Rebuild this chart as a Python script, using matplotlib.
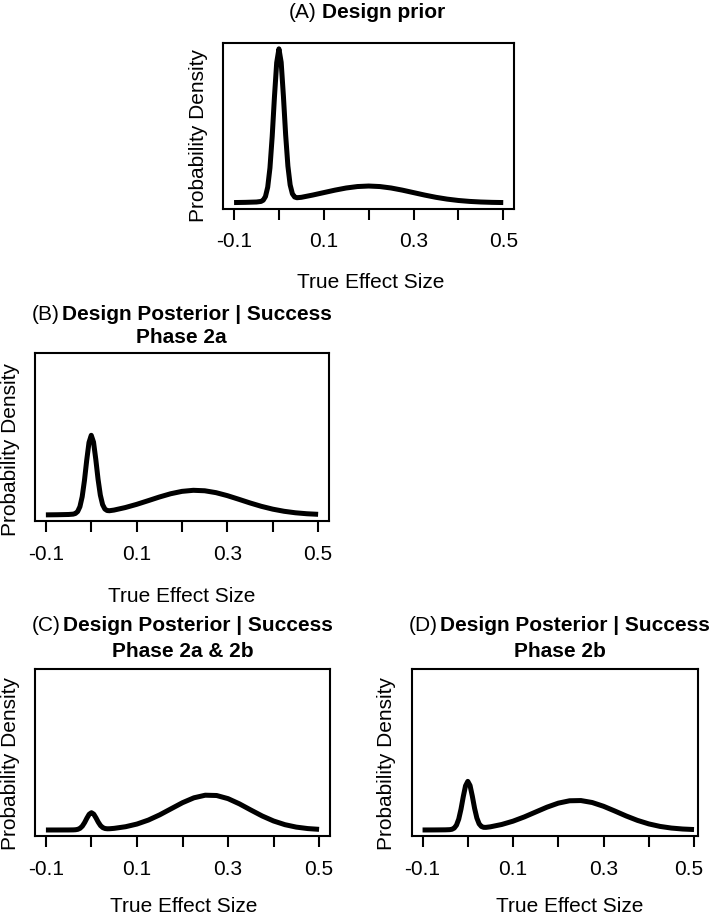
import matplotlib
matplotlib.use("Agg")
import matplotlib.pyplot as plt
import matplotlib.transforms as mtransforms

plt.rcParams['font.family'] = ['Liberation Sans', 'DejaVu Sans']

# ---- data ----
effect_size = [-0.1, -0.075, -0.05, -0.04, -0.035, -0.03, -0.025, -0.02, -0.015, -0.01,
               -0.005, 0.0, 0.005, 0.01, 0.015, 0.02, 0.025, 0.03, 0.035, 0.04,
               0.05, 0.075, 0.1, 0.125, 0.15, 0.175, 0.2, 0.225, 0.25, 0.275,
               0.3, 0.325, 0.35, 0.375, 0.4, 0.425, 0.45, 0.475, 0.5]

density_prior = [0.021, 0.043, 0.083, 0.148, 0.287, 0.709, 1.771, 3.959, 7.548, 12.02,
                 15.92, 17.50, 15.97, 12.12, 7.70, 4.17, 2.03, 1.02, 0.654, 0.569,
                 0.617, 0.870, 1.152, 1.434, 1.677, 1.841, 1.900, 1.841, 1.677, 1.434,
                 1.152, 0.870, 0.617, 0.411, 0.257, 0.151, 0.083, 0.043, 0.021]

density_post_2a = [0.012, 0.027, 0.055, 0.094, 0.168, 0.387, 0.932, 2.052, 3.878, 6.166,
                   8.156, 8.967, 8.201, 6.257, 4.016, 2.237, 1.164, 0.668, 0.500, 0.478,
                   0.550, 0.836, 1.194, 1.602, 2.019, 2.390, 2.658, 2.777, 2.725, 2.512,
                   2.176, 1.770, 1.353, 0.972, 0.655, 0.415, 0.247, 0.138, 0.073]

density_post_2a2b = [0.001, 0.002, 0.005, 0.013, 0.029, 0.076, 0.194, 0.439, 0.841, 1.341,
                     1.778, 1.957, 1.791, 1.367, 0.882, 0.495, 0.267, 0.166, 0.138, 0.144,
                     0.187, 0.371, 0.674, 1.122, 1.715, 2.402, 3.087, 3.638, 3.933, 3.899,
                     3.545, 2.956, 2.261, 1.586, 1.020, 0.602, 0.326, 0.162, 0.073]

density_post_2b = [0.003, 0.007, 0.019, 0.039, 0.083, 0.217, 0.552, 1.240, 2.367, 3.770,
                   4.996, 5.496, 5.025, 3.827, 2.453, 1.357, 0.701, 0.400, 0.302, 0.297,
                   0.361, 0.624, 0.999, 1.481, 2.032, 2.581, 3.035, 3.304, 3.329, 3.106,
                   2.682, 2.145, 1.587, 1.088, 0.690, 0.405, 0.220, 0.111, 0.052]

tick_values = [-0.1, 0.0, 0.1, 0.2, 0.3, 0.4, 0.5]
tick_labels = ['-0.1', '', '0.1', '', '0.3', '', '0.5']

panel_letters = ['(A)', '(B)', '(C)', '(D)']
panel_titles = ['Design prior', 'Design Posterior | Success',
                'Design Posterior | Success', 'Design Posterior | Success']
panel_subtitles = ['', 'Phase 2a', 'Phase 2a & 2b', 'Phase 2b']
xlabel = 'True Effect Size'
ylabel = 'Probability Density'

# ---- layout (pixels) ----
W, H = 709, 917
DPI = 100
FS = 15

fig = plt.figure(figsize=(W / DPI, H / DPI), dpi=DPI)
fig.patch.set_facecolor('white')


def box(l, t, r, b):
    return [l / W, 1 - b / H, (r - l) / W, (b - t) / H]


def ftext(x, y, s, **kw):
    fig.text(x / W, 1 - y / H, s, **kw)


panels = [
    dict(box=(223.3, 42.7, 514.0, 208.7), xmax=0.524, dens=density_prior,
         letter=(317.0, 18.3), bold=(321.5, 18.3), sub=None,
         xl=(371.0, 288.5), yl=(199.0, 136.0), last_shift=0),
    dict(box=(35.0, 353.3, 329.0, 521.0), xmax=0.524, dens=density_post_2a,
         letter=(59.5, 319.5), bold=(61.7, 319.5), sub=(181.7, 342.7),
         xl=(182.0, 601.7), yl=(11.0, 449.0), last_shift=0),
    dict(box=(35.0, 669.0, 330.0, 836.0), xmax=0.524, dens=density_post_2a2b,
         letter=(61.0, 630.7), bold=(63.3, 630.7), sub=(182.5, 656.7),
         xl=(183.3, 911.5), yl=(11.0, 764.0), last_shift=0),
    dict(box=(411.7, 669.0, 698.3, 836.0), xmax=0.5095, dens=density_post_2b,
         letter=(437.5, 630.7), bold=(440.0, 630.7), sub=(560.0, 656.7),
         xl=(570.0, 911.5), yl=(387.0, 764.0), last_shift=-5),
]

ymin_d, ymax_d = min(density_prior), max(density_prior)
pad = 0.04 * (ymax_d - ymin_d)

for i, p in enumerate(panels):
    ax = fig.add_axes(box(*p['box']))
    ax.plot(effect_size, p['dens'], color='black', lw=3.6,
            solid_joinstyle='round', solid_capstyle='butt')
    ax.set_xlim(-0.124, p['xmax'])
    ax.set_ylim(ymin_d - pad, ymax_d + pad)
    ax.set_xticks(tick_values)
    ax.set_xticklabels(tick_labels, fontsize=FS)
    ax.set_yticks([])
    ax.tick_params(axis='x', length=7.6, width=1.5, pad=9.5, direction='out')
    for s in ax.spines.values():
        s.set_linewidth(1.5)
        s.set_color('black')
    if p['last_shift']:
        lab = ax.get_xticklabels()[-1]
        lab.set_transform(lab.get_transform() + mtransforms.ScaledTranslation(
            p['last_shift'] / DPI, 0, fig.dpi_scale_trans))

    ftext(p['letter'][0], p['letter'][1], panel_letters[i], fontsize=FS,
          ha='right', va='baseline')
    ftext(p['bold'][0], p['bold'][1], panel_titles[i], fontsize=FS,
          fontweight='bold', ha='left', va='baseline')
    if p['sub'] is not None:
        ftext(p['sub'][0], p['sub'][1], panel_subtitles[i], fontsize=FS,
              fontweight='bold', ha='center', va='baseline')
    ftext(p['xl'][0], p['xl'][1], xlabel, fontsize=FS, ha='center', va='baseline')
    ftext(p['yl'][0], p['yl'][1], ylabel, fontsize=FS, ha='center', va='center',
          rotation=90)

fig.savefig('out.png', dpi=DPI, facecolor='white')
